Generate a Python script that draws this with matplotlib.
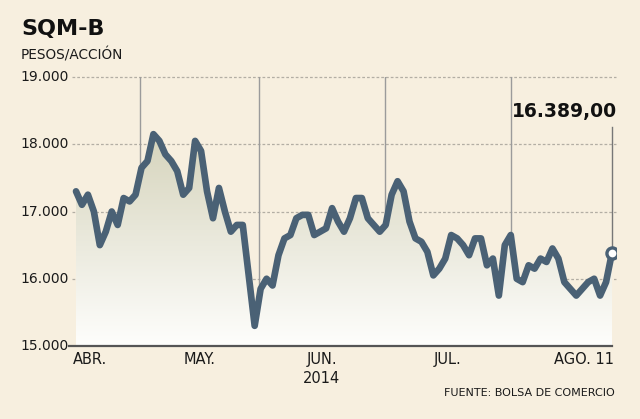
import numpy as np
import matplotlib
matplotlib.use("Agg")
import matplotlib.pyplot as plt
from matplotlib.colors import LinearSegmentedColormap

# === Dades ===
precios = [17300, 17100, 17250, 17000, 16500, 16700, 17000, 16800, 17200, 17150,
           17250, 17650, 17750, 18150, 18050, 17850, 17750, 17600, 17250, 17350,
           18050, 17900, 17300, 16900, 17350, 17000, 16700, 16800, 16800, 16050,
           15300, 15850, 16000, 15900, 16350, 16600, 16650, 16900, 16950, 16950,
           16650, 16700, 16750, 17050, 16850, 16700, 16900, 17200, 17200, 16900,
           16800, 16700, 16800, 17250, 17450, 17300, 16850, 16600, 16550, 16400,
           16050, 16150, 16300, 16650, 16600, 16500, 16350, 16600, 16600, 16200,
           16300, 15750, 16500, 16650, 16000, 15950, 16200, 16150, 16300, 16250,
           16450, 16300, 15950, 15850, 15750, 15850, 15950, 16000, 15750, 15950,
           16389]
cortes_mes = [10.75, 30.7, 51.9, 73.0]
meses = ["ABR.", "MAY.", "JUN.", "JUL.", "AGO. 11"]
y_ticks = [15000, 16000, 17000, 18000, 19000]
y_labels = ["15.000", "16.000", "17.000", "18.000", "19.000"]
ultimo_label = "16.389,00"

BG = "#f7efdf"
LINEA = "#4a6175"
TXT = "#1a1a1a"

x = np.arange(len(precios))
n = len(precios)

fig = plt.figure(figsize=(6.4, 4.19), dpi=100, facecolor=BG)
W, H = 640, 419
L, R, T, B = 62, 616, 77, 346
ax = fig.add_axes([L / W, (H - B) / H, (R - L) / W, (B - T) / H])
ax.set_facecolor("none")
for s in ax.spines.values():
    s.set_visible(False)

esc = (612 - 76) / (n - 1)
ax.set_xticks([])
ax.set_yticks([])

# grid
for v in y_ticks[1:]:
    ax.plot([(72 - L) / (R - L), 1], [v, v], transform=ax.get_yaxis_transform(),
            color="#b3aea4", lw=0.9, ls=(0, (2.2, 1.6)), clip_on=False, zorder=1)
ax.plot([(69 - L) / (R - L), (612 - L) / (R - L)], [15000, 15000], transform=ax.get_yaxis_transform(),
        color="#555555", lw=1.6, clip_on=False, zorder=5)

for c in cortes_mes:
    ax.axvline(c, color="#9b9b9b", lw=1, zorder=1)

# degradat sota la línia
poly = ax.fill_between(x, precios, 15000, facecolor="none", edgecolor="none")
cmap = LinearSegmentedColormap.from_list("g", ["#fefefc", "#d5d3bb"])
grad = np.linspace(0, 1, 256).reshape(-1, 1)
im = ax.imshow(grad, cmap=cmap, aspect="auto", origin="lower",
               extent=[0, n - 1, 15000, 18200], zorder=2)
im.set_clip_path(poly.get_paths()[0], transform=ax.transData)
ax.set_xlim(-(76 - L) / esc, (n - 1) + (R - 612) / esc)
ax.set_ylim(15000, 19000)

ax.plot(x, precios, color=LINEA, lw=4.8, solid_joinstyle="round", solid_capstyle="round", zorder=4)

# últim valor
ax.plot([n - 1, n - 1], [precios[-1], 18260], color="#777777", lw=1, zorder=3)
ax.plot(n - 1, precios[-1], "o", ms=8, mfc="white", mec=LINEA, mew=2.4, zorder=6)
ax.annotate(ultimo_label, xy=(n - 1, 18260), xytext=(4, 4), textcoords="offset points",
            ha="right", va="bottom", fontsize=13.5, fontweight="bold", color="#111111")

# etiquetes eix y
for v, lab in zip(y_ticks, y_labels):
    ax.text((20 - L) / (R - L), v, lab, transform=ax.get_yaxis_transform(),
            ha="left", va="center", fontsize=10, color=TXT, clip_on=False)

# mesos
bx = ax.get_xaxis_transform()
fs = 10.5
ax.text(-0.5, -0.022, meses[0], transform=bx, ha="left", va="top", fontsize=fs, color=TXT)
ax.text((cortes_mes[0] + cortes_mes[1]) / 2, -0.022, meses[1], transform=bx, ha="center", va="top", fontsize=fs, color=TXT)
ax.text((cortes_mes[1] + cortes_mes[2]) / 2, -0.022, meses[2] + "\n2014", transform=bx, ha="center", va="top",
        fontsize=fs, color=TXT, linespacing=1.35)
ax.text((cortes_mes[2] + cortes_mes[3]) / 2, -0.022, meses[3], transform=bx, ha="center", va="top", fontsize=fs, color=TXT)
ax.text(n - 1 + 0.3, -0.022, meses[4], transform=bx, ha="right", va="top", fontsize=fs, color=TXT)

fig.text(615 / W, 1 - 393 / H, "FUENTE: BOLSA DE COMERCIO", ha="right", va="center", fontsize=8, color=TXT)
fig.text(21 / W, 1 - 29 / H, "SQM-B", ha="left", va="center", fontsize=16, fontweight="bold", color="#111111")
fig.text(21 / W, 1 - 55 / H, "PESOS/ACCIÓN", ha="left", va="center", fontsize=9.8, color=TXT)

fig.savefig("out.png", dpi=100, facecolor=BG)
